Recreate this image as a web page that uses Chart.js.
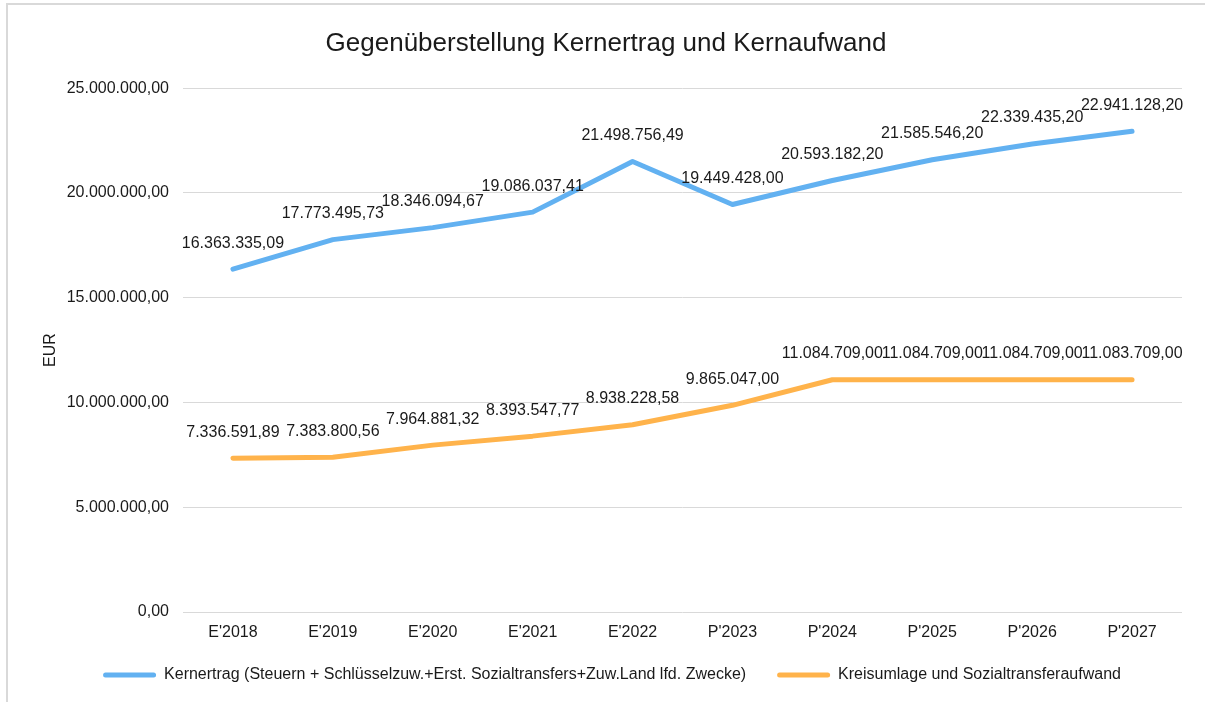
<!DOCTYPE html>
<html lang="de">
<head>
<meta charset="utf-8">
<script src="https://cdn.jsdelivr.net/npm/chart.js@4/dist/chart.umd.min.js"></script>
<style>
  html, body { margin: 0; padding: 0; background: #fff; }
  #wrap { position: relative; width: 1205px; height: 702px; }
  #frame {
    position: absolute; left: 6px; top: 3px; width: 1210px; height: 710px;
    border: 2px solid #d9d9d9; box-sizing: border-box; pointer-events: none;
  }
  canvas { position: absolute; left: 0; top: 0; }
</style>
</head>
<body>
<div id="wrap">
  <canvas id="chart" width="1205" height="702"></canvas>
  <div id="frame"></div>
</div>
<script>
  const years = ["E'2018", "E'2019", "E'2020", "E'2021", "E'2022", "P'2023", "P'2024", "P'2025", "P'2026", "P'2027"];
  const kernertrag = [16363335.09, 17773495.73, 18346094.67, 19086037.41, 21498756.49, 19449428.00, 20593182.20, 21585546.20, 22339435.20, 22941128.20];
  const kernaufwand = [7336591.89, 7383800.56, 7964881.32, 8393547.77, 8938228.58, 9865047.00, 11084709.00, 11084709.00, 11084709.00, 11083709.00];
  const seriesNames = [
    'Kernertrag (Steuern + Schlüsselzuw.+Erst. Sozialtransfers+Zuw.Land lfd. Zwecke)',
    'Kreisumlage und Sozialtransferaufwand'
  ];

  const FONT = 'Arial, "Liberation Sans", sans-serif';
  const TEXT = '#1a1a1a';

  // 1234567.5 -> "1.234.567,50"
  function fmtEur(v) {
    const neg = v < 0;
    const fixed = Math.abs(v).toFixed(2);
    const parts = fixed.split('.');
    const whole = parts[0].replace(/\B(?=(\d{3})+(?!\d))/g, '.');
    return (neg ? '-' : '') + whole + ',' + parts[1];
  }

  // value labels above every point
  const pointLabels = {
    id: 'pointLabels',
    afterDatasetsDraw(chart) {
      const ctx = chart.ctx;
      ctx.save();
      ctx.font = '16px ' + FONT;
      ctx.fillStyle = TEXT;
      ctx.textAlign = 'center';
      ctx.textBaseline = 'middle';
      chart.data.datasets.forEach((ds, di) => {
        chart.getDatasetMeta(di).data.forEach((pt, i) => {
          ctx.fillText(fmtEur(ds.data[i]), pt.x, pt.y - 26);
        });
      });
      ctx.restore();
    }
  };

  // title and legend sit a bit right of the canvas centre
  const boxShift = {
    id: 'boxShift',
    afterLayout(chart) {
      if (chart.legend) {
        chart.legend.left += 21;
        chart.legend.right += 21;
        chart.legend.top -= 3;
        chart.legend.bottom -= 3;
      }
      if (chart.titleBlock) {
        chart.titleBlock.left += 15;
        chart.titleBlock.right += 15;
      }
    }
  };

  new Chart(document.getElementById('chart'), {
    type: 'line',
    data: {
      labels: years,
      datasets: [
        {
          label: seriesNames[0],
          data: kernertrag,
          borderColor: '#62b1f1',
          backgroundColor: '#62b1f1',
          borderWidth: 5,
          borderCapStyle: 'round',
          borderJoinStyle: 'round',
          pointRadius: 0,
          tension: 0
        },
        {
          label: seriesNames[1],
          data: kernaufwand,
          borderColor: '#ffb34b',
          backgroundColor: '#ffb34b',
          borderWidth: 5,
          borderCapStyle: 'round',
          borderJoinStyle: 'round',
          pointRadius: 0,
          tension: 0
        }
      ]
    },
    options: {
      responsive: false,
      animation: false,
      layout: { padding: { left: 0, right: 23, top: 0, bottom: 6 } },
      plugins: {
        title: {
          display: true,
          text: 'Gegenüberstellung Kernertrag und Kernaufwand',
          color: TEXT,
          font: { family: FONT, size: 26, weight: 'normal' },
          padding: { top: 28, bottom: 29 }
        },
        legend: {
          position: 'bottom',
          labels: {
            color: TEXT,
            font: { family: FONT, size: 16 },
            boxWidth: 53,
            boxHeight: 5,
            padding: 31,
            useBorderRadius: true,
            borderRadius: 2.5,
            generateLabels(chart) {
              return chart.data.datasets.map((ds, i) => ({
                text: ds.label,
                fillStyle: ds.borderColor,
                strokeStyle: ds.borderColor,
                lineWidth: 0,
                fontColor: TEXT,
                borderRadius: 2.5,
                datasetIndex: i
              }));
            }
          }
        },
        tooltip: { enabled: false }
      },
      scales: {
        x: {
          offset: true,
          grid: { display: false, drawTicks: false },
          border: { display: false },
          ticks: { color: TEXT, font: { family: FONT, size: 16 }, padding: 11, maxRotation: 0 },
          afterFit(scale) { scale.height = 27; }
        },
        y: {
          min: 0,
          max: 25000000,
          ticks: {
            stepSize: 5000000,
            color: TEXT,
            font: { family: FONT, size: 16 },
            padding: 14,
            callback: v => fmtEur(v)
          },
          grid: { color: '#d9d9d9', lineWidth: 1, drawTicks: false },
          border: { display: false },
          title: {
            display: true,
            text: 'EUR',
            color: TEXT,
            font: { family: FONT, size: 16 },
            padding: { top: 41, bottom: 0 }
          },
          afterFit(scale) { scale.width = 183; }
        }
      }
    },
    plugins: [pointLabels, boxShift]
  });
</script>
</body>
</html>
